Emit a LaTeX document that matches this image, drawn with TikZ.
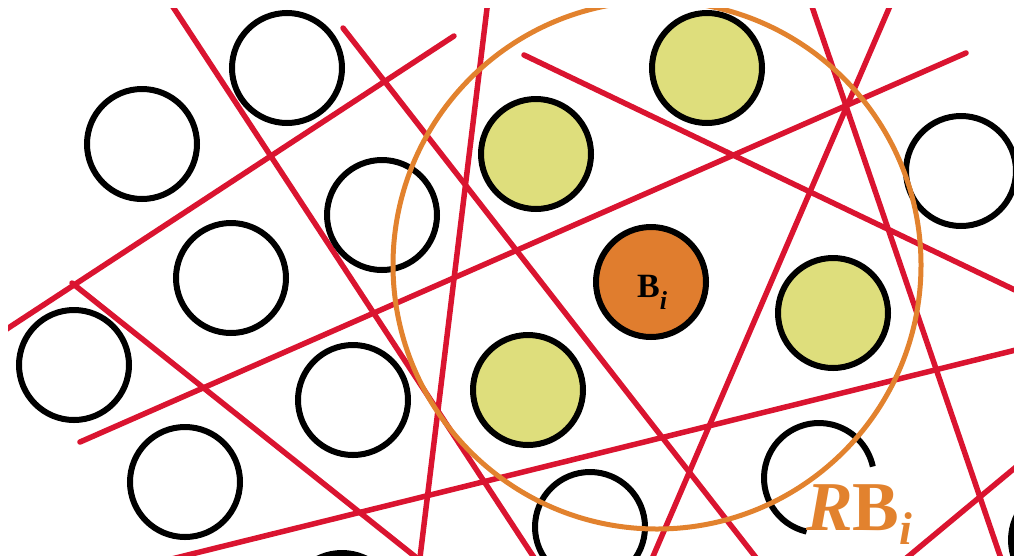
\documentclass[tikz,border=0pt]{standalone}
\usepackage{fontspec}
\setmainfont{Liberation Serif}
\definecolor{redl}{RGB}{218,20,48}
\definecolor{yel}{RGB}{222,222,124}
\definecolor{orb}{RGB}{224,125,46}
\definecolor{orr}{RGB}{226,130,46}
\begin{document}
\begin{tikzpicture}[x=1pt,y=-1pt,
  redline/.style={draw=redl,line width=5.5pt,line cap=round},
  ring/.style={circle,draw=black,line width=6pt,minimum size=110pt,inner sep=0pt},
  yring/.style={ring,fill=yel},
  bring/.style={ring,fill=orb},
  bigring/.style={circle,draw=orr,line width=5pt,minimum size=528pt,inner sep=0pt}]
\useasboundingbox (0,0) rectangle (1014,555);
\begin{scope}
\clip (8,8) rectangle (1014,555);
% line end points
\coordinate (l1a) at (156,-19);  \coordinate (l1b) at (550,582);
\coordinate (l2a) at (343,28);   \coordinate (l2b) at (775,582);
\coordinate (l3a) at (454,36);   \coordinate (l3b) at (-10,340);
\coordinate (l4a) at (72,283);   \coordinate (l4b) at (447,582);
\coordinate (l5a) at (80,442);   \coordinate (l5b) at (966,53);
\coordinate (l6a) at (524,55);   \coordinate (l6b) at (1040,302);
\coordinate (l7a) at (896,-8);   \coordinate (l7b) at (642,582);
\coordinate (l8a) at (807,-8);   \coordinate (l8b) at (1009,582);
\coordinate (l9a) at (489,-8);   \coordinate (l9b) at (417,582);
\coordinate (l10a) at (115,573); \coordinate (l10b) at (1040,344);
\coordinate (l11a) at (1040,447);\coordinate (l11b) at (880,580);
% red lines
\draw[redline] (l1a) -- (l1b);
\draw[redline] (l2a) -- (l2b);
\draw[redline] (l3a) -- (l3b);
\draw[redline] (l4a) -- (l4b);
\draw[redline] (l5a) -- (l5b);
\draw[redline] (l6a) -- (l6b);
\draw[redline] (l7a) -- (l7b);
\draw[redline] (l8a) -- (l8b);
\draw[redline] (l9a) -- (l9b);
\draw[redline] (l10a) -- (l10b);
\draw[redline] (l11a) -- (l11b);
% black circles
\node[ring] (c1) at (287,68) {};
\node[ring] (c2) at (142,144) {};
\node[ring] (c3) at (382,215) {};
\node[ring] (c4) at (231,278) {};
\node[ring] (c5) at (74,365) {};
\node[ring] (c6) at (353,400) {};
\node[ring] (c7) at (185,482) {};
\node[ring] (c8) at (342,608) {};
\node[ring] (c9) at (961,171) {};
\node[ring] (c11) at (590,527) {};
\node[ring] (c12) at (1066,540) {};
\coordinate (c10) at (819,478);
\draw[black,line width=6pt] (c10) ++(103:55) arc[start angle=103,end angle=348,radius=55];
% yellow circles
\node[yring] (y1) at (707,68) {};
\node[yring] (y2) at (536,154) {};
\node[yring] (y3) at (833,313) {};
\node[yring] (y4) at (528,390) {};
% central ball
\node[bring] (b) at (651,282) {};
% neighbourhood ring
\node[bigring] (rb) at (657,265) {};
\end{scope}
\node[anchor=base west,inner sep=0pt,font=\fontsize{34}{34}\selectfont\bfseries] (bl) at (637,297)
  {B\raisebox{-12pt}{\fontsize{26}{26}\selectfont\itshape i}};
\node[anchor=base west,inner sep=0pt,text=orr,font=\fontsize{70}{70}\selectfont\bfseries] (rbl) at (806,530)
  {\textit{R}B\raisebox{-14pt}{\fontsize{46}{46}\selectfont\itshape i}};
\end{tikzpicture}
\end{document}
